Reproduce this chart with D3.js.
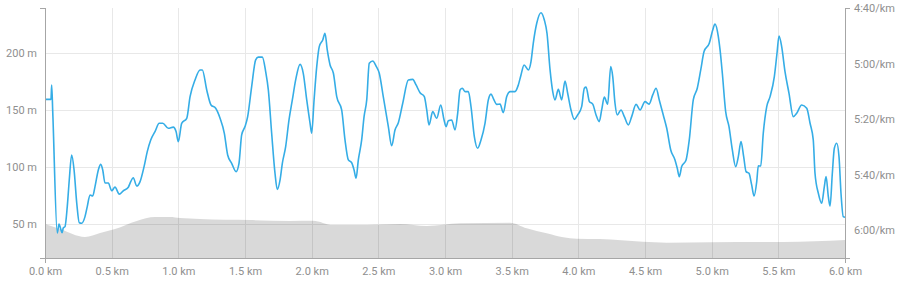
<!DOCTYPE html>
<html lang="en">
<head>
    <meta charset="utf-8" />
    <script src="https://d3js.org/d3.v7.min.js"></script>
    <title>Pace and elevation</title>
    <style>
        body { margin: 0; background: #fff; }
        .axis text { font-family: Roboto, sans-serif; font-size: 11px; fill: #8f8f8f; }
        .axis path, .axis line { stroke: #a6a6a6; }
    </style>
</head>
<body>
    <script>
        // distance (km) and pace (seconds per km)
        const paceKm = [0, 0.045, 0.05, 0.058, 0.092, 0.105, 0.12, 0.128, 0.137, 0.15, 0.167, 0.182, 0.2, 0.218, 0.238, 0.257, 0.275, 0.3, 0.317, 0.338, 0.358, 0.375, 0.4, 0.418, 0.433, 0.45, 0.475, 0.5, 0.525, 0.557, 0.587, 0.625, 0.643, 0.662, 0.688, 0.713, 0.743, 0.767, 0.793, 0.825, 0.857, 0.883, 0.925, 0.962, 0.983, 1.0, 1.025, 1.063, 1.088, 1.125, 1.163, 1.18, 1.213, 1.245, 1.28, 1.313, 1.345, 1.37, 1.4, 1.433, 1.455, 1.475, 1.5, 1.52, 1.55, 1.58, 1.6, 1.63, 1.655, 1.675, 1.7, 1.725, 1.742, 1.763, 1.78, 1.805, 1.83, 1.855, 1.88, 1.913, 1.937, 1.963, 1.988, 2.0, 2.018, 2.038, 2.057, 2.083, 2.1, 2.117, 2.138, 2.163, 2.188, 2.225, 2.25, 2.275, 2.3, 2.318, 2.333, 2.35, 2.375, 2.393, 2.413, 2.432, 2.458, 2.483, 2.507, 2.537, 2.575, 2.6, 2.625, 2.65, 2.683, 2.725, 2.758, 2.783, 2.813, 2.845, 2.863, 2.88, 2.908, 2.938, 2.968, 2.993, 3.008, 3.025, 3.05, 3.075, 3.095, 3.113, 3.13, 3.15, 3.175, 3.195, 3.22, 3.245, 3.27, 3.3, 3.325, 3.345, 3.362, 3.388, 3.413, 3.437, 3.463, 3.488, 3.525, 3.55, 3.57, 3.593, 3.625, 3.645, 3.662, 3.688, 3.72, 3.745, 3.765, 3.788, 3.808, 3.825, 3.85, 3.875, 3.9, 3.92, 3.945, 3.97, 3.995, 4.025, 4.045, 4.058, 4.083, 4.108, 4.133, 4.157, 4.175, 4.195, 4.22, 4.243, 4.258, 4.275, 4.292, 4.32, 4.345, 4.375, 4.4, 4.433, 4.463, 4.5, 4.53, 4.558, 4.583, 4.607, 4.637, 4.663, 4.693, 4.725, 4.742, 4.757, 4.775, 4.808, 4.832, 4.862, 4.892, 4.918, 4.943, 4.982, 5.008, 5.025, 5.05, 5.063, 5.08, 5.105, 5.13, 5.155, 5.18, 5.2, 5.22, 5.24, 5.258, 5.28, 5.3, 5.318, 5.338, 5.35, 5.368, 5.387, 5.413, 5.438, 5.47, 5.49, 5.505, 5.525, 5.55, 5.58, 5.612, 5.638, 5.675, 5.713, 5.738, 5.762, 5.775, 5.8, 5.825, 5.845, 5.858, 5.875, 5.888, 5.905, 5.92, 5.938, 5.955, 5.97, 5.987, 6.0];
        const paceSec = [312.9, 312.9, 307.7, 317.3, 361.0, 357.8, 359.9, 360.9, 359.2, 358.7, 351.5, 341.9, 332.9, 338.3, 350.2, 357.3, 357.5, 355.1, 351.5, 347.3, 347.7, 344.3, 338.3, 336.3, 338.3, 343.0, 343.0, 345.8, 344.5, 347.0, 345.8, 344.5, 342.5, 341.1, 344.1, 342.5, 337.1, 331.7, 327.5, 324.5, 321.5, 321.5, 323.3, 322.9, 324.5, 328.1, 321.5, 319.7, 311.9, 305.9, 302.3, 302.3, 309.5, 314.9, 316.1, 319.7, 325.1, 332.9, 335.9, 338.9, 335.9, 325.7, 322.7, 319.1, 308.3, 298.7, 297.7, 297.7, 302.9, 309.5, 325.1, 339.5, 345.3, 341.9, 335.9, 329.9, 320.3, 313.1, 305.9, 300.3, 303.5, 313.1, 321.5, 325.1, 313.1, 301.1, 293.9, 291.5, 289.1, 295.1, 300.5, 303.5, 311.9, 316.7, 327.5, 334.7, 335.7, 338.3, 341.3, 334.7, 327.5, 319.1, 313.1, 299.9, 299.1, 300.9, 303.5, 311.9, 322.7, 329.6, 323.9, 321.3, 314.3, 305.9, 305.7, 307.7, 310.5, 311.9, 316.7, 322.1, 317.3, 319.7, 314.9, 320.3, 322.7, 320.6, 320.3, 323.9, 317.9, 309.5, 308.9, 310.1, 310.1, 315.5, 326.3, 330.5, 327.5, 321.5, 313.1, 311.0, 312.5, 314.7, 314.6, 317.7, 311.9, 310.1, 310.1, 307.7, 304.1, 300.5, 302.3, 299.3, 292.7, 285.5, 281.7, 284.3, 289.1, 302.3, 310.1, 313.1, 309.3, 313.1, 306.3, 310.7, 316.7, 320.1, 318.5, 315.5, 308.9, 308.5, 313.7, 314.6, 318.5, 320.9, 316.7, 312.1, 314.6, 301.1, 304.7, 314.3, 318.5, 316.7, 319.1, 322.1, 319.1, 314.7, 316.7, 313.7, 314.6, 311.3, 308.9, 313.1, 318.5, 323.3, 331.1, 334.7, 337.7, 340.7, 337.1, 334.7, 327.5, 313.1, 308.9, 302.3, 295.7, 292.7, 287.9, 285.8, 290.3, 295.1, 303.5, 317.3, 322.7, 331.1, 337.1, 333.5, 328.1, 333.5, 338.9, 339.5, 343.7, 347.7, 342.5, 336.8, 336.9, 325.1, 315.5, 311.9, 304.7, 296.3, 290.1, 293.9, 302.9, 310.7, 319.1, 317.9, 314.9, 316.1, 321.5, 327.5, 339.5, 346.7, 350.3, 344.3, 340.7, 347.9, 351.3, 339.5, 330.5, 328.7, 333.5, 346.7, 355.1, 355.3];

        // distance (km) and elevation (m)
        const elevKm = [0, 0.113, 0.3, 0.413, 0.525, 0.688, 0.825, 0.938, 1.013, 1.163, 1.538, 1.838, 2.01, 2.16, 2.413, 2.663, 2.863, 3.113, 3.488, 3.613, 3.763, 3.888, 3.988, 4.163, 4.485, 4.663, 4.988, 5.538, 6.0];
        const elevM = [49.9, 45.5, 38.5, 42.0, 45.5, 52.6, 56.1, 56.1, 55.2, 54.3, 53.4, 52.6, 52.8, 49.0, 49.0, 49.9, 48.2, 50.5, 51.1, 46.1, 41.7, 38.2, 37.0, 36.7, 34.3, 33.5, 33.8, 34.1, 35.8];

        const kmTicks = [0, 0.5, 1, 1.5, 2, 2.5, 3, 3.5, 4, 4.5, 5, 5.5, 6];
        const elevTicks = [50, 100, 150, 200];
        const paceTicks = [280, 300, 320, 340, 360];

        const width = 906, height = 292;
        const margin = { top: 8, right: 61, bottom: 34, left: 45 };

        const svg = d3.select("body")
            .append("svg")
            .attr("width", width)
            .attr("height", height);

        const x = d3.scaleLinear().domain([0, 6]).range([margin.left, width - margin.right]);
        const yElev = d3.scaleLinear().domain([20, 240]).range([height - margin.bottom, margin.top]);
        const yPace = d3.scaleLinear().domain([280, 370]).range([margin.top, height - margin.bottom]);

        // grid
        const grid = svg.append("g").attr("stroke", "#e8e8e8").attr("shape-rendering", "crispEdges");
        grid.selectAll(".vg")
            .data(kmTicks.slice(1, -1))
            .enter().append("line")
            .attr("x1", d => Math.round(x(d)) + 0.5).attr("x2", d => Math.round(x(d)) + 0.5)
            .attr("y1", margin.top).attr("y2", height - margin.bottom);
        grid.selectAll(".hg")
            .data(elevTicks)
            .enter().append("line")
            .attr("x1", margin.left).attr("x2", width - margin.right)
            .attr("y1", d => Math.round(yElev(d)) + 0.5).attr("y2", d => Math.round(yElev(d)) + 0.5);

        // elevation area
        const elevData = elevKm.map((k, i) => [k, elevM[i]]);
        svg.append("path")
            .datum(elevData)
            .attr("fill", "rgba(0,0,0,0.15)")
            .attr("d", d3.area()
                .curve(d3.curveMonotoneX)
                .x(d => x(d[0]))
                .y0(yElev(20))
                .y1(d => yElev(d[1])));

        // pace line
        const paceData = paceKm.map((k, i) => [k, paceSec[i]]);
        svg.append("path")
            .datum(paceData)
            .attr("fill", "none")
            .attr("stroke", "#35ade6")
            .attr("stroke-width", 1.6)
            .attr("stroke-linejoin", "round")
            .attr("d", d3.line()
                .curve(d3.curveMonotoneX)
                .x(d => x(d[0]))
                .y(d => yPace(d[1])));

        const fmtPace = s => Math.floor(s / 60) + ":" + String(s % 60).padStart(2, "0") + "/km";

        // axes
        svg.append("g")
            .attr("class", "axis")
            .attr("transform", "translate(0," + (height - margin.bottom) + ")")
            .call(d3.axisBottom(x).tickValues(kmTicks).tickSizeInner(0).tickSizeOuter(5).tickPadding(9)
                .tickFormat(d => d3.format(".1f")(d) + " km"));

        svg.append("g")
            .attr("class", "axis")
            .attr("transform", "translate(" + margin.left + ",0)")
            .call(d3.axisLeft(yElev).tickValues(elevTicks).tickSizeInner(0).tickSizeOuter(5).tickPadding(8)
                .tickFormat(d => d + " m"));

        svg.append("g")
            .attr("class", "axis")
            .attr("transform", "translate(" + (width - margin.right) + ",0)")
            .call(d3.axisRight(yPace).tickValues(paceTicks).tickSizeInner(0).tickSizeOuter(5).tickPadding(9)
                .tickFormat(fmtPace));

        svg.selectAll(".axis .domain").attr("shape-rendering", "crispEdges");
    </script>
</body>
</html>
